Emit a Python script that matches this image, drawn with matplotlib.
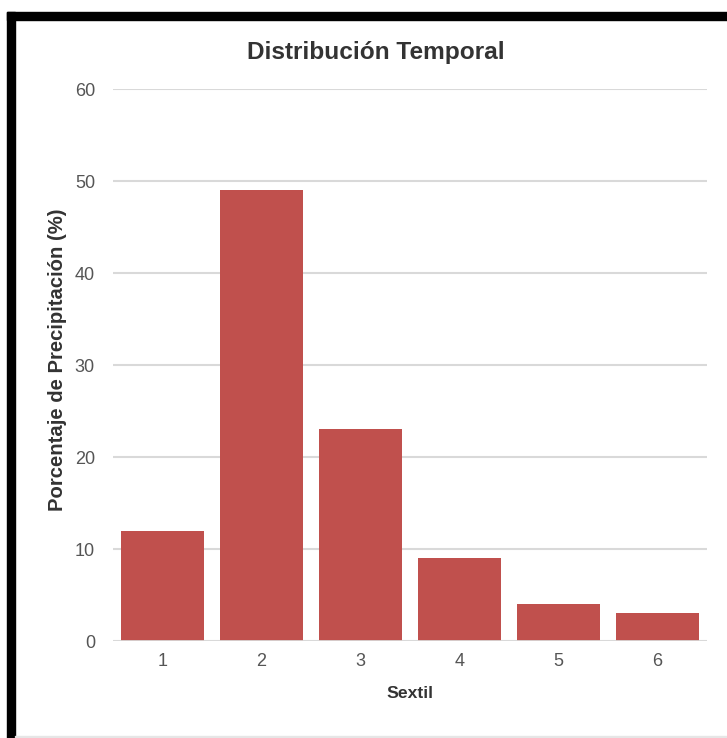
import matplotlib
matplotlib.use('Agg')
import matplotlib.pyplot as plt
from matplotlib.patches import Rectangle

W, H = 727, 738

sextiles = ['1', '2', '3', '4', '5', '6']
porcentajes = [12, 49, 23, 9, 4, 3]
y_ticks = [0, 10, 20, 30, 40, 50, 60]

plt.rcParams['font.family'] = ['Liberation Sans', 'DejaVu Sans']

fig = plt.figure(figsize=(W / 100, H / 100), dpi=100)

# thick black frame on top and left, faint line at the bottom
fig.patches.append(Rectangle((7 / W, 0), 8 / W, (H - 12) / H, transform=fig.transFigure,
                             color='black', zorder=10))
fig.patches.append(Rectangle((7 / W, (H - 20) / H), (W - 7) / W, 8 / H,
                             transform=fig.transFigure, color='black', zorder=10))
fig.patches.append(Rectangle((15 / W, 1 / H), (W - 15) / W, 1.5 / H,
                             transform=fig.transFigure, color='#e6e6e6', zorder=10))

left, right, top, bottom = 113, 707, 89, 641
ax = fig.add_axes([left / W, (H - bottom) / H, (right - left) / W, (bottom - top) / H])

x = range(len(sextiles))
ax.bar(x, porcentajes, width=0.84, color='#C0504D', zorder=3)

ax.set_xlim(-0.5, len(sextiles) - 0.5)
ax.set_ylim(0, 60)
ax.set_yticks(y_ticks)
ax.set_xticks(list(x))
ax.set_xticklabels(sextiles)
ax.grid(axis='y', color='#d9d9d9', linewidth=1.5, zorder=0)
ax.axhline(0, color='#d9d9d9', linewidth=2, zorder=4)
for s in ax.spines.values():
    s.set_visible(False)
ax.tick_params(length=0, labelsize=13, labelcolor='#555555')
ax.tick_params(axis='y', pad=13)
ax.tick_params(axis='x', pad=9)

# axis titles and chart title placed in pixel positions
fig.text(410 / W, (H - 693) / H, 'Sextil', ha='center', va='center',
         fontsize=12.6, fontweight='bold', color='#333333')
fig.text(58 / W, (H - 360) / H, 'Porcentaje de Precipitación (%)', ha='center',
         va='center', rotation=90, fontsize=14.6, fontweight='bold', color='#333333')
fig.text(376 / W, (H - 52) / H, 'Distribución Temporal', ha='center', va='center',
         fontsize=17.6, fontweight='bold', color='#333333')

fig.savefig('out.png', dpi=100, facecolor='white')
